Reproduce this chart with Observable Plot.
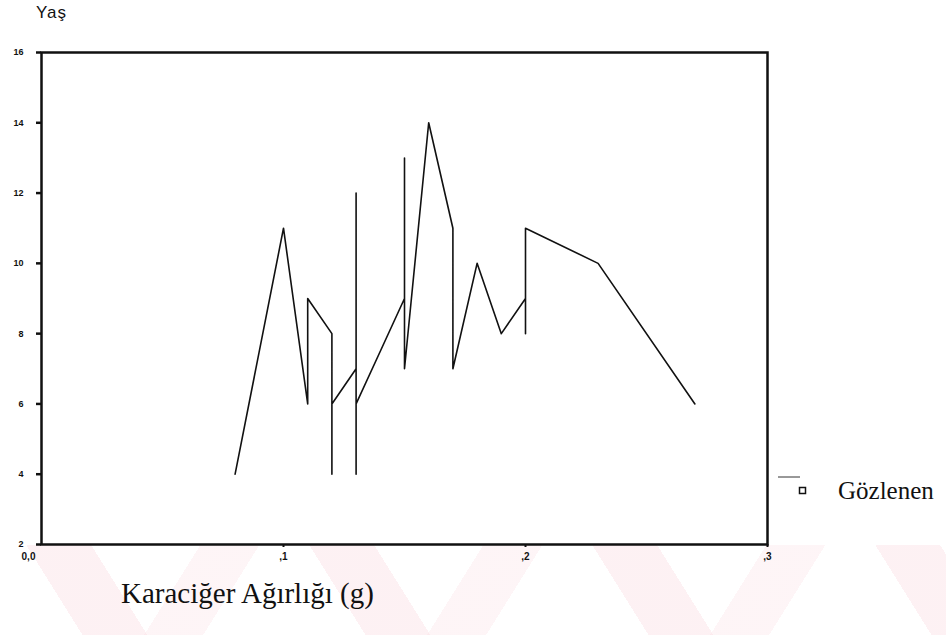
<!DOCTYPE html>
<html>
<head>
<meta charset="utf-8">
<script src="https://cdn.jsdelivr.net/npm/d3@7"></script>
<script src="https://cdn.jsdelivr.net/npm/@observablehq/plot@0.6"></script>
<style>
  html, body { margin: 0; padding: 0; background: #fff; }
  #wrap { position: relative; width: 946px; height: 635px; overflow: hidden; }
  #band {
    position: absolute; left: 0; top: 545px; width: 946px; height: 90px;
    background:
      repeating-linear-gradient(58deg, transparent 0 70px, rgba(250,215,222,0.35) 70px 125px, transparent 125px 240px),
      repeating-linear-gradient(-58deg, transparent 0 150px, rgba(250,215,222,0.25) 150px 200px, transparent 200px 240px);
  }
  #chart { position: absolute; left: 0; top: 0; }
  .lbl { position: absolute; white-space: nowrap; color: #111; }
  #ytitle { left: 36px; top: 3px; font-family: "Liberation Sans", Arial, sans-serif; font-size: 17px; letter-spacing: 1px; }
  #xtitle { left: 121px; top: 577px; font-family: "Liberation Serif", "Times New Roman", serif; font-size: 29px; }
  #legtext { left: 838px; top: 477px; font-family: "Liberation Serif", "Times New Roman", serif; font-size: 25px; }
  #legsym { position: absolute; left: 776px; top: 472px; }
</style>
</head>
<body>
<div id="wrap">
  <div id="band"></div>
  <div id="chart"></div>
  <div class="lbl" id="ytitle">Yaş</div>
  <div class="lbl" id="xtitle">Karaciğer Ağırlığı (g)</div>
  <svg id="legsym" width="40" height="30">
    <line x1="2" y1="5" x2="24" y2="5" stroke="#333" stroke-width="1"/>
    <rect x="23.5" y="15.5" width="6" height="6" fill="none" stroke="#111" stroke-width="1.5"/>
  </svg>
  <div class="lbl" id="legtext">Gözlenen</div>
</div>
<script>
// Observed data: liver weight (g) vs age, in plotted order
const weight = [0.08, 0.10, 0.11, 0.11, 0.12, 0.12, 0.12, 0.13, 0.13, 0.13, 0.13, 0.14, 0.15, 0.15, 0.15, 0.16, 0.17, 0.17, 0.18, 0.19, 0.20, 0.20, 0.20, 0.23, 0.27];
const age    = [4,    11,   6,    9,    8,    4,    6,    7,    12,   4,    6,    7.5,  9,    13,   7,    14,   11,   7,    10,   8,    9,    8,    11,   10,   6];

const xTicks = [0, 0.1, 0.2, 0.3];
const xTickLabels = ["0,0", ",1", ",2", ",3"];
const yTicks = [2, 4, 6, 8, 10, 12, 14, 16];
const yTickLabels = ["2", "4", "6", "8", "10", "12", "14", "16"];

const data = weight.map((w, i) => ({w, a: age[i]}));
const xLab = new Map(xTicks.map((t, i) => [t, xTickLabels[i]]));
const yLab = new Map(yTicks.map((t, i) => [t, yTickLabels[i]]));

const chart = Plot.plot({
  width: 946,
  height: 635,
  marginLeft: 41,
  marginRight: 179,
  marginTop: 52,
  marginBottom: 91,
  style: {background: "transparent", color: "#111", fontFamily: "Liberation Sans, Arial, sans-serif"},
  x: {domain: [0, 0.3]},
  y: {domain: [2, 16]},
  marks: [
    Plot.axisY(yTicks, {tickSize: 5, tickPadding: 13, strokeWidth: 2.5, tickFormat: d => yLab.get(d), fontSize: 9, fontWeight: "bold", label: null}),
    Plot.axisX(xTicks.slice(1), {tickSize: 3, tickPadding: 5, strokeWidth: 2, tickFormat: d => xLab.get(d), fontSize: 10, fontWeight: "bold", label: null}),
    Plot.axisX(xTicks.slice(0, 1), {tickSize: 0, tickPadding: 8, dx: -13, tickFormat: d => xLab.get(d), fontSize: 10, fontWeight: "bold", label: null}),
    Plot.line(data, {x: "w", y: "a", stroke: "#111", strokeWidth: 1.6}),
    Plot.frame({stroke: "#111", strokeWidth: 2.5})
  ]
});
document.getElementById("chart").appendChild(chart);
</script>
</body>
</html>
